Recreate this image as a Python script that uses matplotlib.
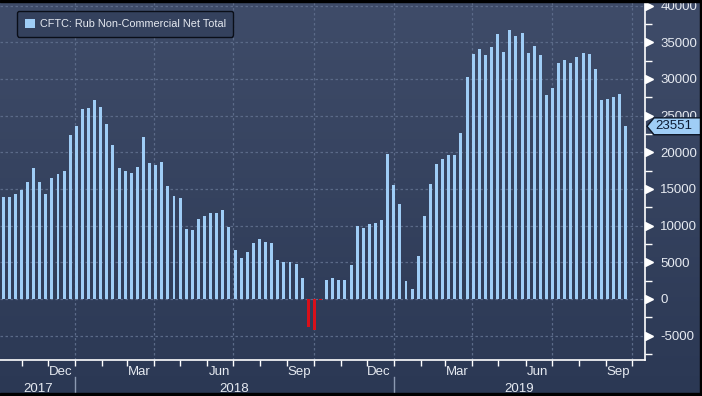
import numpy as np
import pandas as pd
import matplotlib
matplotlib.use("Agg")
import matplotlib.pyplot as plt
import matplotlib.dates as mdates
import matplotlib.transforms as mtrans
from matplotlib.patches import Patch, Polygon, Rectangle
from matplotlib.lines import Line2D

plt.rcParams['font.family'] = ['Liberation Sans', 'DejaVu Sans']

# weekly CFTC readings (contracts), first report 2017-10-10
start_date = "2017-10-10"
net_total = [
    13860, 13950, 14360, 14800, 16000, 17800, 15900, 14360, 16500, 17100,
    17400, 22300, 23600, 25950, 26100, 27200, 26200, 23800, 21000, 17900,
    17500, 17200, 18000, 22100, 18600, 18300, 18700, 15450, 14000, 13800,
    9550, 9400, 10900, 11300, 11700, 11700, 12100, 9800, 6700, 5600,
    6400, 7600, 8200, 7800, 7600, 5300, 5050, 5050, 4800, 2900,
    -3800, -4200, -150, 2600, 2900, 2600, 2600, 4600, 9950, 9700,
    10200, 10400, 10800, 19800, 15500, 13000, 2450, 1360, 5900, 11300,
    15700, 18400, 19100, 19600, 19600, 22600, 30300, 33400, 34100, 33300,
    34400, 36100, 33700, 36700, 35900, 36300, 33500, 34500, 33300, 27800,
    28800, 32200, 32600, 32200, 33000, 33500, 33400, 31400, 27100, 27300,
    27500, 27950, 23551,
]
series_name = "CFTC: Rub Non-Commercial Net Total"
month_labels = ["Dec", "Mar", "Jun", "Sep", "Dec", "Mar", "Jun", "Sep"]
month_label_dates = ["2017-12-15", "2018-03-15", "2018-06-15", "2018-09-15",
                     "2018-12-15", "2019-03-15", "2019-06-15", "2019-09-15"]
years = ["2017", "2018", "2019"]

dates = pd.date_range(start_date, periods=len(net_total), freq="7D")
values = np.array(net_total)

BLUE = "#9fcdf6"
RED = "#d8101a"
TXT = "#e6eaf1"
GRID = "#5b6a88"

fig = plt.figure(figsize=(7.02, 3.96), dpi=100)

# gradient background over whole figure
bg = fig.add_axes([0, 0, 1, 1], zorder=-10)
top = np.array([0x3f, 0x4c, 0x69]) / 255
bot = np.array([0x2b, 0x38, 0x54]) / 255
t = np.linspace(0, 1, 256)[:, None]
grad = (top * (1 - t) + bot * t)[:, None, :]
bg.imshow(grad, aspect="auto", extent=[0, 1, 0, 1])
bg.set_axis_off()

ax = fig.add_axes([0, 36 / 396, 645 / 702, 358 / 396])
ax.set_facecolor("none")

colors = [BLUE if v >= 0 else RED for v in values]
ax.bar(dates, values, width=3.4, color=colors, zorder=3)

xmin = pd.Timestamp("2017-10-06 12:00")
xmax = pd.Timestamp("2019-10-16")
ax.set_xlim(xmin, xmax)
ax.set_ylim(-8320, 40500)

# y axis on the right
ax.yaxis.tick_right()
ax.set_yticks(np.arange(-5000, 40001, 5000))
ax.set_yticks(np.arange(-7500, 40000, 5000), minor=True)
ax.tick_params(axis="y", which="major", length=0, pad=11, labelsize=9.5, labelcolor=TXT)
ax.tick_params(axis="y", which="minor", length=5, width=1, color="white", direction="out")
ax.yaxis.set_major_formatter(plt.FuncFormatter(lambda v, p: "%d" % v))
ax.grid(axis="y", which="major", color=GRID, linestyle=(0, (2, 2)), linewidth=0.9, zorder=1)

# triangle tick markers
tri = mtrans.blended_transform_factory(ax.transAxes, ax.transData)
tri = mtrans.offset_copy(tri, fig=fig, x=4, y=0, units="dots")
yt = np.arange(-5000, 40001, 5000)
ax.plot(np.ones(len(yt)), yt, linestyle="none", marker=">", markersize=6,
        color="white", transform=tri, clip_on=False, zorder=4)

# x axis: month ticks, labels mid-month
ax.xaxis.set_minor_locator(mdates.MonthLocator())
ax.set_xticks(pd.to_datetime(month_label_dates))
ax.set_xticklabels(month_labels)
ax.tick_params(axis="x", which="major", length=0, pad=4, labelsize=9.5, labelcolor=TXT)
ax.tick_params(axis="x", which="minor", length=4, width=1, color="white", direction="out")

for q in pd.date_range("2018-01-01", "2019-10-01", freq="QS"):
    ax.axvline(q, color=GRID, linestyle=(0, (2, 2)), linewidth=0.9, zorder=1)

for s in ["top", "left"]:
    ax.spines[s].set_visible(False)
for s in ["right", "bottom"]:
    ax.spines[s].set_color("white")
    ax.spines[s].set_linewidth(1.2)

# year row
yr = mtrans.blended_transform_factory(ax.transData, ax.transAxes)
bounds = [xmin, pd.Timestamp("2018-01-01"), pd.Timestamp("2019-01-01"), xmax]
for i, y in enumerate(years):
    mid = bounds[i] + (bounds[i + 1] - bounds[i]) / 2
    ax.text(mid, -0.08, y, transform=yr, ha="center", va="center",
            fontsize=9.5, color=TXT, clip_on=False)
for b in bounds[1:3]:
    ax.add_line(Line2D([b, b], [-0.047, -0.092], transform=yr, color="#8c9ab2",
                       linewidth=1, clip_on=False))

# last value tag
last = values[-1]
tag = mtrans.blended_transform_factory(fig.transFigure, ax.transData)
h = 1150
poly = Polygon([(647 / 702, last), (654 / 702, last + h), (1.0, last + h),
                (1.0, last - h), (654 / 702, last - h)], closed=True,
               transform=tag, facecolor=BLUE, edgecolor="#0d1626",
               linewidth=1, clip_on=False, zorder=5)
ax.add_patch(poly)
ax.text(655 / 702, last, "%d" % last, transform=tag, ha="left", va="center",
        fontsize=9.5, color="#0b1a33", clip_on=False, zorder=6)

leg = ax.legend(handles=[Patch(facecolor=BLUE, edgecolor="none", label=series_name)],
                loc="upper left", bbox_to_anchor=(17 / 645, (360 - 11) / 358),
                borderaxespad=0, fontsize=7.8, handlelength=0.95, handleheight=0.95,
                handletextpad=0.45, borderpad=0.7, fancybox=True, framealpha=1)
leg.get_frame().set_facecolor("#34415d")
leg.get_frame().set_edgecolor("#0a0e18")
leg.get_frame().set_linewidth(1)
for tx in leg.get_texts():
    tx.set_color(TXT)

# black frame on top, right and bottom
fig.patches.append(Rectangle((0, 1 - 2 / 396), 1, 2 / 396, transform=fig.transFigure,
                             color="black", zorder=20))
fig.patches.append(Rectangle((0, 0), 1, 3 / 396, transform=fig.transFigure,
                             color="black", zorder=20))
fig.patches.append(Rectangle((1 - 2 / 702, 0), 2 / 702, 1, transform=fig.transFigure,
                             color="black", zorder=20))

fig.savefig("out.png", dpi=100)
